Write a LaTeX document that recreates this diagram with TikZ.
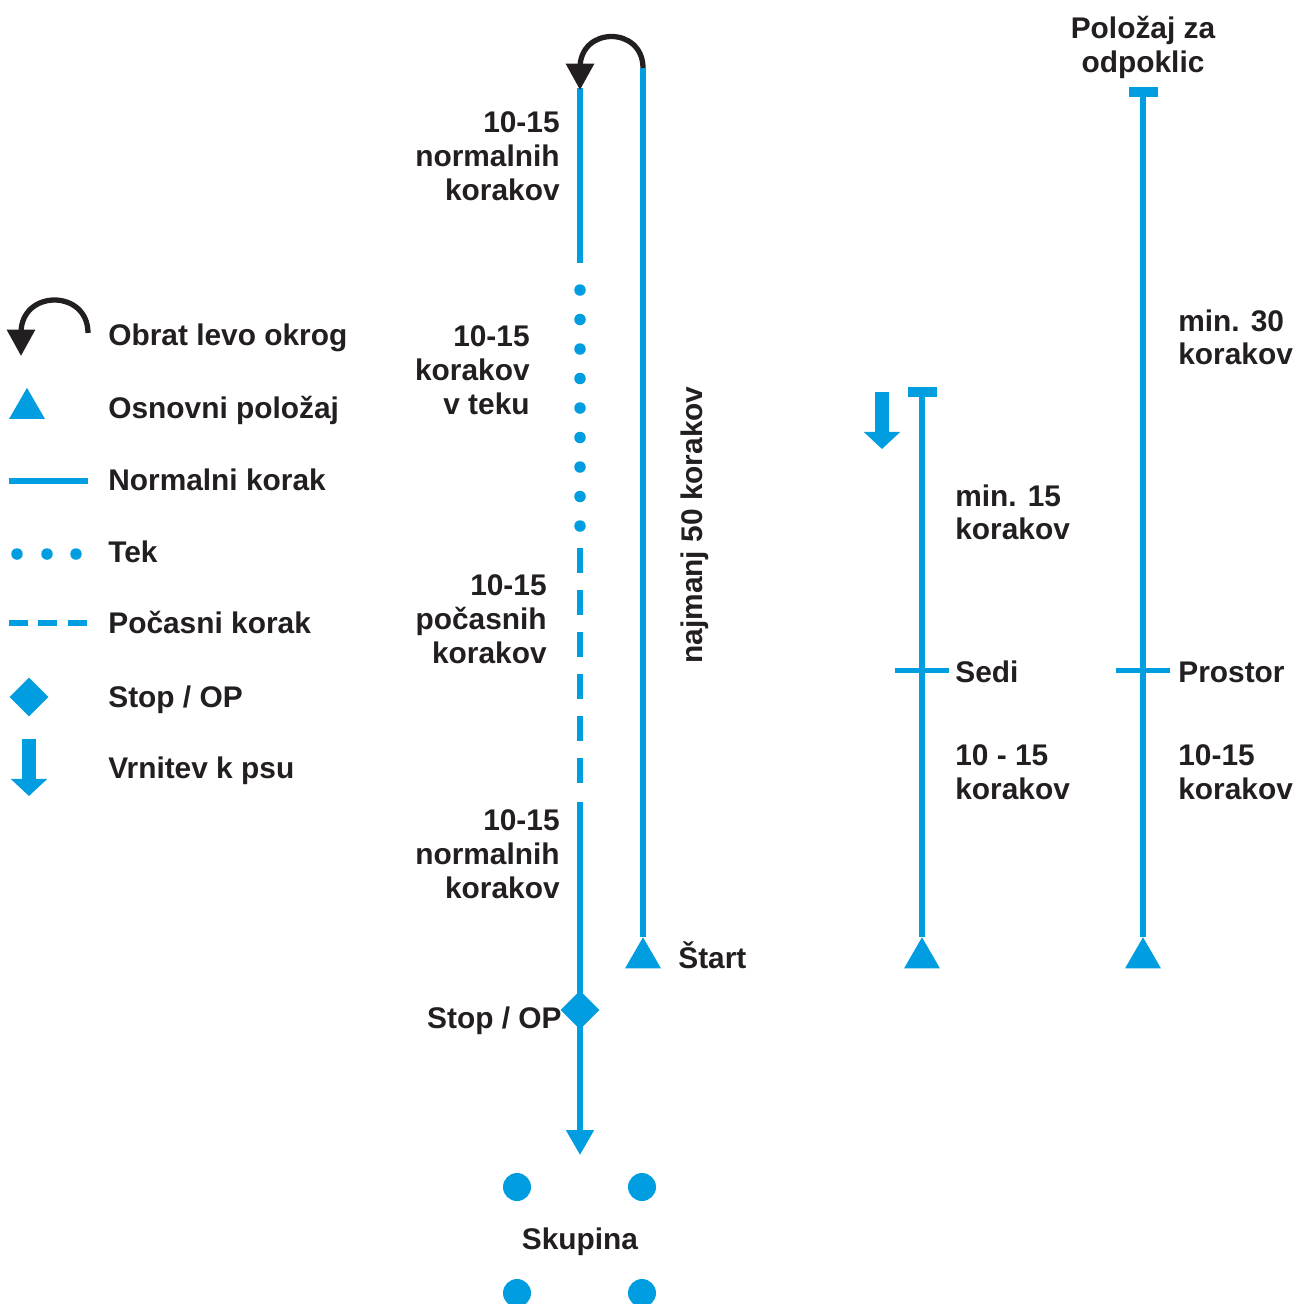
\documentclass[tikz,border=0pt]{standalone}
\usepackage{fontspec}
\setmainfont{Liberation Sans}
\usepackage{tikz}
\usetikzlibrary{arrows.meta,shapes.geometric}

\definecolor{stepblue}{RGB}{0,158,224}
\definecolor{inkgray}{RGB}{35,31,32}

\tikzset{
  walk/.style={draw=stepblue, line width=3pt},
  turn/.style={draw=inkgray, line width=3pt, -{Triangle[width=15.5pt,length=15pt]}},
  lbl/.style={font=\fontsize{17}{19.3}\selectfont\bfseries, text=inkgray, inner sep=0pt},
  home/.style={regular polygon, regular polygon sides=3, fill=stepblue, minimum size=0.83cm, inner sep=0pt},
  halt/.style={diamond, fill=stepblue, minimum size=0.78cm, inner sep=0pt},
  runDot/.style={circle, fill=stepblue, minimum size=0.23cm, inner sep=0pt},
  groupDot/.style={circle, fill=stepblue, minimum size=0.56cm, inner sep=0pt},
  capbar/.style={rectangle, fill=stepblue, minimum width=0.58cm, minimum height=0.2cm, inner sep=0pt},
  crossbar/.style={rectangle, fill=stepblue, minimum width=1.08cm, minimum height=0.1cm, inner sep=0pt},
  backarrow/.style={draw=stepblue, line width=7.8pt, -{Triangle[width=20.4pt,length=9.8pt]}},
  honour/.style={dash pattern=on 0.5cm off 0.34cm}
}

\begin{document}
\begin{tikzpicture}[x=0.02cm,y=-0.02cm]
  \useasboundingbox (0,0) rectangle (1306,1303);

  % legend
  \draw[turn] (88,333) .. controls (88,289) and (21,289) .. (21,333) -- (21,356);
  \node[lbl, anchor=base west] (legTurn) at (108,345) {Obrat levo okrog};
  \node[home] (legHome) at (27,408.6) {};
  \node[lbl, anchor=base west] (legHomeTxt) at (108,418) {Osnovni položaj};
  \draw[walk] (9,481) -- (88,481);
  \node[lbl, anchor=base west] (legWalk) at (108,490) {Normalni korak};
  \foreach \x in {17,47,76}
    \node[runDot] at (\x,554) {};
  \node[lbl, anchor=base west] (legRun) at (108,562) {Tek};
  \draw[walk, dash pattern=on 0.38cm off 0.21cm] (9,623) -- (88,623);
  \node[lbl, anchor=base west] (legSlow) at (108,633) {Počasni korak};
  \node[halt] (legHalt) at (29,697) {};
  \node[lbl, anchor=base west] (legHaltTxt) at (108,707) {Stop / OP};
  \draw[backarrow] (29,739) -- (29,796);
  \node[lbl, anchor=base west] (legBack) at (108,778) {Vrnitev k psu};

  % heeling pattern
  \coordinate (turnL) at (580,88);
  \coordinate (turnR) at (643,68);
  \node[home] (start) at (643,958) {};
  \draw[walk] (turnR) -- (start.corner 1);
  \draw[walk] (turnL) -- (580,263);
  \foreach \y in {290,319.5,...,527}
    \node[runDot] at (580,\y) {};
  \draw[walk, honour] (580,548) -- (580,785);
  \draw[walk, -{Triangle[width=15.3pt,length=14.2pt]}] (580,802) -- (580,1155);
  \node[halt] (stopOP) at (580,1010) {};
  \draw[turn] (turnR) .. controls (643,26) and (580,26) .. (580,68) -- (580,90);

  \node[lbl, anchor=north east, align=right] (normA) at (560,111) {10-15\\normalnih\\korakov};
  \node[lbl, anchor=north east, align=right] (runA) at (530,325) {10-15\\korakov\\v teku};
  \node[lbl, anchor=north east, align=right] (slowA) at (547,574) {10-15\\počasnih\\korakov};
  \node[lbl, anchor=north east, align=right] (normB) at (560,809) {10-15\\normalnih\\korakov};
  \node[lbl, anchor=base east] (stopTxt) at (562,1028) {Stop / OP};
  \node[lbl, anchor=base west] (startTxt) at (678,968) {Štart};
  \node[lbl, anchor=base, rotate=90] (minFifty) at (702,525) {najmanj 50 korakov};

  % group
  \node[groupDot] (gA) at (517,1187) {};
  \node[groupDot] (gB) at (642,1187) {};
  \node[groupDot] (gC) at (517,1293) {};
  \node[groupDot] (gD) at (642,1293) {};
  \node[lbl, anchor=base] (group) at (580,1249) {Skupina};

  % sit
  \node[capbar] (sitTop) at (922,392) {};
  \node[home] (sitHome) at (922,958) {};
  \draw[walk] (sitTop.center) -- (sitHome.corner 1);
  \node[crossbar] (sitMark) at (922,670) {};
  \draw[backarrow] (882,392) -- (882,449);
  \node[lbl, anchor=north west, align=left] (sitMin) at (955,484) {min. 15\\korakov};
  \node[lbl, anchor=base west] (sitTxt) at (955,682) {Sedi};
  \node[lbl, anchor=north west, align=left] (sitSteps) at (955,744) {10 - 15\\korakov};

  % recall
  \node[capbar] (recallTop) at (1143,92) {};
  \node[home] (recallHome) at (1143,958) {};
  \draw[walk] (recallTop.center) -- (recallHome.corner 1);
  \node[crossbar] (recallMark) at (1143,670) {};
  \node[lbl, anchor=north, align=center] (recallTxt) at (1143,16) {Položaj za\\odpoklic};
  \node[lbl, anchor=north west, align=left] (recallMin) at (1178,309) {min. 30\\korakov};
  \node[lbl, anchor=base west] (spaceTxt) at (1178,682) {Prostor};
  \node[lbl, anchor=north west, align=left] (recallSteps) at (1178,744) {10-15\\korakov};
\end{tikzpicture}
\end{document}
